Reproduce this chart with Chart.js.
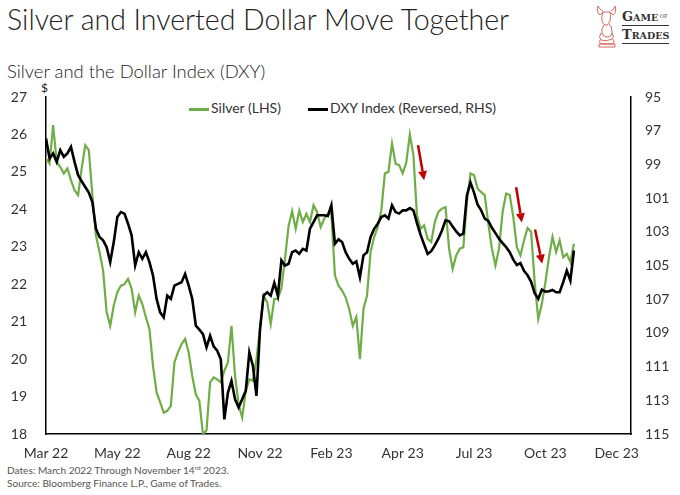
<!DOCTYPE html>
<html>
<head>
<meta charset="utf-8">
<script src="https://cdn.jsdelivr.net/npm/chart.js@4.4.0/dist/chart.umd.min.js"></script>
<style>
  html, body { margin: 0; padding: 0; background: #fff; }
  body { width: 680px; height: 495px; position: relative; overflow: hidden; font-family: Lato, "Open Sans", sans-serif; color: #222; }
  #chart { position: absolute; left: 0; top: 0; }
  .title { position: absolute; left: 7px; top: 2px; font-size: 28.5px; font-weight: 300; white-space: nowrap; }
  .subtitle { position: absolute; left: 7px; top: 60px; font-size: 18.4px; font-weight: 300; white-space: nowrap; }
  .dollar { position: absolute; left: 41px; top: 80px; font-size: 12px; }
  .legend { position: absolute; top: 99px; font-size: 14px; color: #333; white-space: nowrap; }
  .legend span { display: inline-block; width: 20px; height: 2.5px; vertical-align: middle; margin-right: 2px; }
  .note { position: absolute; left: 7px; font-size: 10.1px; color: #555; white-space: nowrap; }
  .logo { position: absolute; left: 595px; top: 4px; }
  .logo-text { position: absolute; left: 622px; top: 10px; font-family: "DejaVu Serif", "Liberation Serif", serif; font-weight: bold; color: #333; }
  .logo-text div { font-size: 13px; line-height: 13px; padding-bottom: 1px; border-bottom: 1px solid #333; margin-bottom: 2px; white-space: nowrap; }
  .logo-text small { font-size: 9.5px; }
  .logo-text sub { font-size: 5px; vertical-align: 3px; font-weight: normal; }
</style>
</head>
<body>
<div class="title">Silver and Inverted Dollar Move Together</div>
<div class="subtitle">Silver and the Dollar Index (DXY)</div>
<div class="dollar">$</div>
<div class="legend" style="left:189px"><span style="background:#6fae46"></span>Silver (LHS)</div>
<div class="legend" style="left:308px"><span style="background:#000"></span>DXY Index (Reversed, RHS)</div>
<svg class="logo" width="24" height="44" viewBox="0 0 24 44">
  <g fill="none" stroke="#d0574f" stroke-width="0.9" stroke-linejoin="round">
    <path d="M3 2 Q1 8 5 11 L8 8 L15 8 L18 11 Q22 8 20 2 Q19 6 16 7" />
    <path d="M3 2 Q5 6 8 7" />
    <path d="M8 8 Q6 13 7 17 Q8 20 10 21 L12 21 Q14 20 15 17 Q16 13 15 8" />
    <path d="M9 21 Q6 25 7 29 Q8 33 12 33 Q17 33 17 28 Q17 22 14 20" />
    <path d="M6 29 Q3 33 6 36 Q11 38 17 35 Q20 33 17 29" />
    <path d="M5 36 Q4 39 6 40 L18 40 Q20 39 18 35" />
    <path d="M4 40 L20 40 L20 43 L4 43 Z" />
  </g>
</svg>
<div class="logo-text"><div>G<small>AME</small><sub> OF</sub></div><div>T<small>RADES</small></div></div>
<div class="note" style="top:464px">Dates: March 2022 Through November 14<sup style="font-size:6.5px">rd</sup> 2023.</div>
<div class="note" style="top:477px">Source: Bloomberg Finance L.P., Game of Trades.</div>
<canvas id="chart" width="680" height="495"></canvas>
<script>
// x tick labels, one every 20 points
let xTickLabels = ["Mar 22", "May 22", "Aug 22", "Nov 22", "Feb 23", "Apr 23", "Jul 23", "Oct 23", "Dec 23"];

// Silver price, $ (left axis)
let silver = [
  25.36, 25.22, 26.25, 25.27, 25.13, 24.96, 25.09, 24.78, 24.51, 24.38,
  25.09, 25.71, 25.58, 24.38, 23.30, 22.86, 22.37, 21.25, 20.89, 21.43,
  21.79, 21.96, 22.00, 22.14, 21.88, 21.25, 21.70, 21.47, 21.12, 20.80,
  19.82, 19.11, 18.85, 18.57, 18.62, 18.75, 19.91, 20.18, 20.40, 20.54,
  20.18, 19.55, 19.06, 18.88, 18.00, 18.10, 19.38, 19.51, 19.46, 19.38,
  19.69, 19.91, 20.89, 19.55, 18.79, 18.44, 19.15, 19.46, 19.42, 20.00,
  20.80, 21.70, 21.52, 20.94, 21.61, 21.61, 21.90, 22.68, 23.55, 23.95,
  23.48, 23.97, 23.66, 23.88, 23.66, 24.11, 23.93, 23.53, 23.75, 23.88,
  23.88, 22.23, 21.96, 21.83, 21.65, 21.34, 20.89, 21.12, 20.00, 21.34,
  21.70, 22.86, 23.26, 23.53, 23.97, 24.96, 25.00, 25.76, 25.22, 25.18,
  24.96, 25.25, 26.00, 25.45, 23.84, 23.48, 23.57, 23.21, 23.13, 23.66,
  23.93, 24.02, 24.06, 22.95, 22.41, 22.77, 22.95, 22.99, 24.20, 24.96,
  24.91, 24.55, 24.46, 24.38, 23.62, 22.95, 22.50, 22.95, 23.93, 24.42,
  24.38, 23.80, 22.99, 22.77, 23.17, 23.50, 23.40, 22.05, 21.07, 21.47,
  22.05, 22.72, 23.26, 22.86, 23.17, 22.72, 22.81, 22.59, 23.08
];

// DXY index (right axis, reversed)
let dxy = [
  97.46, 98.65, 98.35, 98.85, 98.15, 98.55, 98.35, 97.96, 98.85, 99.64,
  100.00, 100.34, 100.67, 101.23, 102.82, 103.31, 103.51, 103.91, 104.80, 103.61,
  102.12, 101.83, 101.92, 102.52, 103.21, 105.00, 104.21, 104.60, 104.21, 104.80,
  105.60, 106.98, 107.78, 108.08, 106.79, 106.98, 106.19, 106.09, 105.99, 105.50,
  106.19, 106.98, 108.57, 108.81, 109.07, 109.86, 109.17, 109.80, 110.06, 110.56,
  114.13, 112.54, 111.85, 112.94, 113.43, 112.94, 112.44, 110.16, 110.95, 112.74,
  108.77, 106.79, 106.59, 106.79, 106.03, 106.79, 104.70, 105.00, 104.90, 104.21,
  104.11, 104.31, 104.01, 104.11, 102.82, 102.42, 102.02, 102.02, 102.02, 102.06,
  101.43, 103.71, 103.45, 103.61, 104.21, 104.60, 104.90, 104.76, 105.69, 104.40,
  104.21, 103.31, 102.82, 102.52, 102.12, 102.02, 102.22, 101.43, 101.83, 101.92,
  101.73, 101.73, 101.59, 101.73, 102.48, 103.17, 103.75, 104.31, 104.15, 103.81,
  103.41, 102.92, 102.32, 102.38, 102.68, 102.98, 103.21, 103.11, 100.83, 100.08,
  100.67, 101.39, 101.73, 102.22, 102.36, 102.76, 103.08, 103.41, 103.67, 103.91,
  104.21, 104.65, 104.97, 104.86, 105.32, 105.58, 105.97, 106.65, 106.98, 106.43,
  106.55, 106.53, 106.45, 106.59, 106.59, 105.99, 105.30, 105.89, 104.11
];

// red arrows, in point index / silver $ units
let arrowStartX = [104.3, 131.8, 137.1];
let arrowStartY = [25.71, 24.59, 23.46];
let arrowEndX = [106.0, 133.4, 139.1];
let arrowEndY = [24.78, 23.65, 22.55];

let toPoints = function (arr) {
  return arr.map(function (v, i) {
    return { x: i, y: v };
  });
};

let arrowPlugin = {
  id: "arrows",
  afterDatasetsDraw: function (chart) {
    let ctx = chart.ctx;
    let sx = chart.scales.x;
    let sy = chart.scales.y;
    ctx.save();
    ctx.strokeStyle = "#c00000";
    ctx.fillStyle = "#c00000";
    ctx.lineWidth = 2.5;
    arrowStartX.forEach(function (_, k) {
      let x1 = sx.getPixelForValue(arrowStartX[k]);
      let y1 = sy.getPixelForValue(arrowStartY[k]);
      let x2 = sx.getPixelForValue(arrowEndX[k]);
      let y2 = sy.getPixelForValue(arrowEndY[k]);
      let a = Math.atan2(y2 - y1, x2 - x1);
      let head = 9;
      let bx = x2 - head * Math.cos(a);
      let by = y2 - head * Math.sin(a);
      ctx.beginPath();
      ctx.moveTo(x1, y1);
      ctx.lineTo(bx, by);
      ctx.stroke();
      ctx.beginPath();
      ctx.moveTo(x2, y2);
      ctx.lineTo(bx + 4.5 * Math.sin(a), by - 4.5 * Math.cos(a));
      ctx.lineTo(bx - 4.5 * Math.sin(a), by + 4.5 * Math.cos(a));
      ctx.closePath();
      ctx.fill();
    });
    ctx.restore();
  },
};

let tickFont = { family: "Lato, 'Open Sans', sans-serif", size: 14 };

new Chart(document.getElementById("chart").getContext("2d"), {
  type: "line",
  data: {
    datasets: [
      {
        label: "Silver (LHS)",
        data: toPoints(silver),
        yAxisID: "y",
        borderColor: "#6fae46",
        borderWidth: 2.2,
        pointRadius: 0,
        tension: 0,
        order: 2,
      },
      {
        label: "DXY Index (Reversed, RHS)",
        data: toPoints(dxy),
        yAxisID: "y2",
        borderColor: "#000",
        borderWidth: 2.6,
        pointRadius: 0,
        tension: 0,
        order: 1,
      },
    ],
  },
  options: {
    responsive: false,
    animation: false,
    devicePixelRatio: 1,
    layout: { padding: { top: 97, left: 0, right: 0, bottom: 0 } },
    plugins: { legend: { display: false }, tooltip: { enabled: false } },
    scales: {
      x: {
        type: "linear",
        min: 0,
        max: 164,
        grid: { display: false, drawTicks: false },
        border: { display: true, color: "#000", width: 1.5 },
        ticks: {
          stepSize: 20,
          includeBounds: false,
          autoSkip: false,
          maxRotation: 0,
          padding: 11,
          color: "#333",
          font: tickFont,
          callback: function (v) {
            return v % 20 === 0 ? xTickLabels[v / 20] : "";
          },
        },
        afterFit: function (scale) {
          scale.height = 61;
        },
      },
      y: {
        position: "left",
        min: 18,
        max: 27,
        grid: { display: false, drawTicks: false },
        border: { display: true, color: "#000", width: 1.5 },
        ticks: { stepSize: 1, padding: 19, color: "#333", font: tickFont },
        afterFit: function (scale) {
          scale.width = 46;
        },
      },
      y2: {
        position: "right",
        reverse: true,
        min: 95,
        max: 115,
        grid: { display: false, drawTicks: false },
        border: { display: true, color: "#000", width: 1.5 },
        ticks: { stepSize: 2, padding: 14, color: "#333", font: tickFont },
        afterFit: function (scale) {
          scale.width = 49;
        },
      },
    },
  },
  plugins: [arrowPlugin],
});
</script>
</body>
</html>
